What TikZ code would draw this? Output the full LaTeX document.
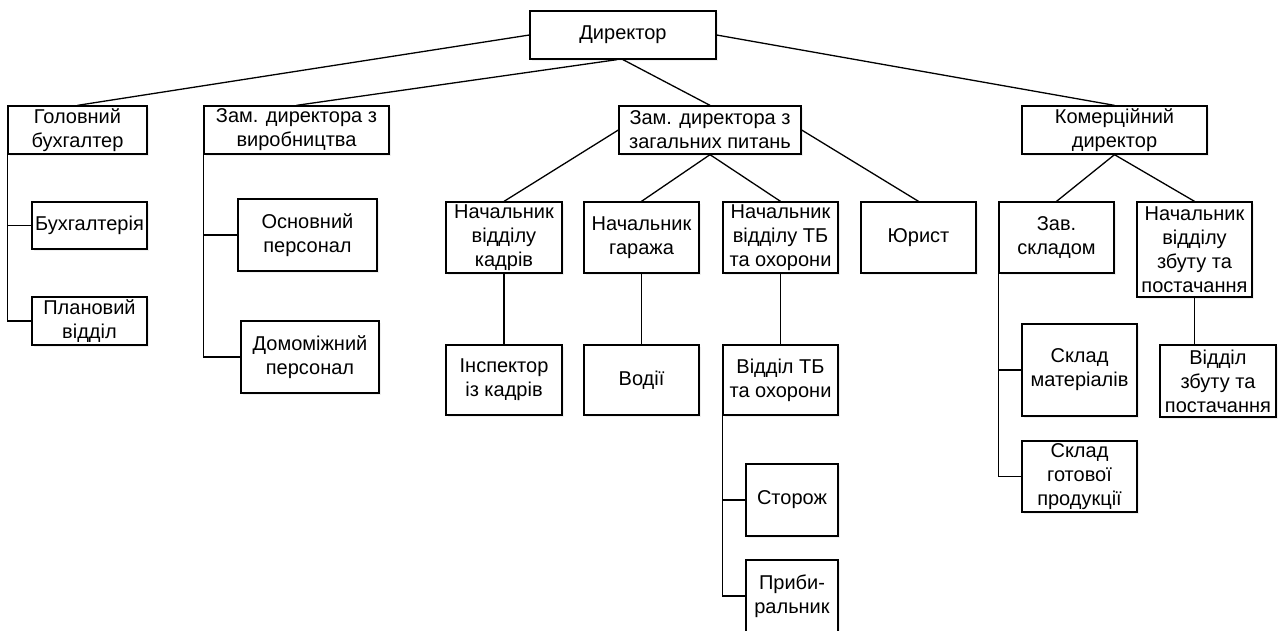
\documentclass[tikz,border=0pt]{standalone}
\usepackage{fontspec}
\setmainfont{Liberation Sans}
\usetikzlibrary{shadows}
\begin{document}
\begin{tikzpicture}[x=1pt,y=-1pt,
  box/.style={draw=black, line width=1.3pt, fill=white, inner sep=0pt, align=center,
    font=\fontsize{20}{24}\selectfont,
    drop shadow={opacity=0.12, shadow xshift=2pt, shadow yshift=-2pt}},
  conn/.style={line width=1.3pt, black}]
\useasboundingbox (0,0) rectangle (1279,630);
% level 0
\node[box, minimum width=186pt, minimum height=48pt] (dir) at (623,35) {Директор};
% level 1
\node[box, minimum width=139pt, minimum height=48pt] (gb) at (77.5,130) {Головний\\бухгалтер};
\node[box, minimum width=185pt, minimum height=48pt] (zv) at (296.5,130) {Зам. директора з\\виробництва};
\node[box, minimum width=182pt, minimum height=48pt] (zz) at (710,130) {Зам. директора з\\загальних питань};
\node[box, minimum width=185pt, minimum height=48pt] (kd) at (1114.5,130) {Комерційний\\директор};
% left branches
\node[box, minimum width=115pt, minimum height=47pt] (bh) at (89.5,225.5) {Бухгалтерія};
\node[box, minimum width=115pt, minimum height=48pt] (pv) at (89.5,321) {Плановий\\відділ};
\node[box, minimum width=139pt, minimum height=72pt] (op) at (307.5,235) {Основний\\персонал};
\node[box, minimum width=138pt, minimum height=72pt] (dp) at (310,357) {Домоміжний\\персонал};
% level 2
\node[box, minimum width=116pt, minimum height=71pt] (nk) at (504,237.5) {Начальник\\відділу\\кадрів};
\node[box, minimum width=115pt, minimum height=71pt] (ng) at (641.5,237.5) {Начальник\\гаража};
\node[box, minimum width=115pt, minimum height=71pt] (nt) at (780.5,237.5) {Начальник\\відділу ТБ\\та охорони};
\node[box, minimum width=115pt, minimum height=71pt] (ur) at (918.5,237.5) {Юрист};
\node[box, minimum width=115pt, minimum height=71pt] (zs) at (1056.5,237.5) {Зав.\\складом};
\node[box, minimum width=115pt, minimum height=95pt] (nz) at (1194.5,249.5) {Начальник\\відділу\\збуту та\\постачання};
% level 3
\node[box, minimum width=116pt, minimum height=70pt] (ik) at (504,380) {Інспектор\\із кадрів};
\node[box, minimum width=115pt, minimum height=70pt] (vo) at (641.5,380) {Водії};
\node[box, minimum width=115pt, minimum height=70pt] (vt) at (780.5,380) {Відділ ТБ\\та охорони};
\node[box, minimum width=92pt, minimum height=72pt] (st) at (792,500) {Сторож};
\node[box, minimum width=92pt, minimum height=72pt] (pr) at (792,596) {Приби-\\ральник};
\node[box, minimum width=115pt, minimum height=92pt] (sm) at (1079.5,370) {Склад\\матеріалів};
\node[box, minimum width=115pt, minimum height=71pt] (sg) at (1079.5,476.5) {Склад\\готової\\продукції};
\node[box, minimum width=116pt, minimum height=72pt] (vz) at (1218,381) {Відділ\\збуту та\\постачання};
% connectors
\draw[conn] (dir.west) -- (gb.north);
\draw[conn] ([xshift=-6pt]dir.south) -- (zv.north);
\draw[conn] (dir.south) -- (zz.north);
\draw[conn] (dir.east) -- (kd.north);
\draw[conn] (zz.west) -- (nk.north);
\draw[conn] (zz.south) -- (ng.north);
\draw[conn] (zz.south) -- (nt.north);
\draw[conn] (zz.east) -- (ur.north);
\draw[conn] (kd.south) -- (zs.north);
\draw[conn] (kd.south) -- (nz.north);
\draw[conn] (nk.south) -- (ik.north);
\draw[conn] (ng.south) -- (vo.north);
\draw[conn] (nt.south) -- (vt.north);
\draw[conn] (nz.south) -- (nz.south |- vz.north);
\draw[conn] (gb.south west) |- (pv.west);
\draw[conn] (gb.south west |- bh.west) -- (bh.west);
\draw[conn] (zv.south west) |- (dp.west);
\draw[conn] (zv.south west |- op.west) -- (op.west);
\draw[conn] (zs.south west) |- (sg.west);
\draw[conn] (zs.south west |- sm.west) -- (sm.west);
\draw[conn] (vt.south west) |- (pr.west);
\draw[conn] (vt.south west |- st.west) -- (st.west);
\end{tikzpicture}
\end{document}
